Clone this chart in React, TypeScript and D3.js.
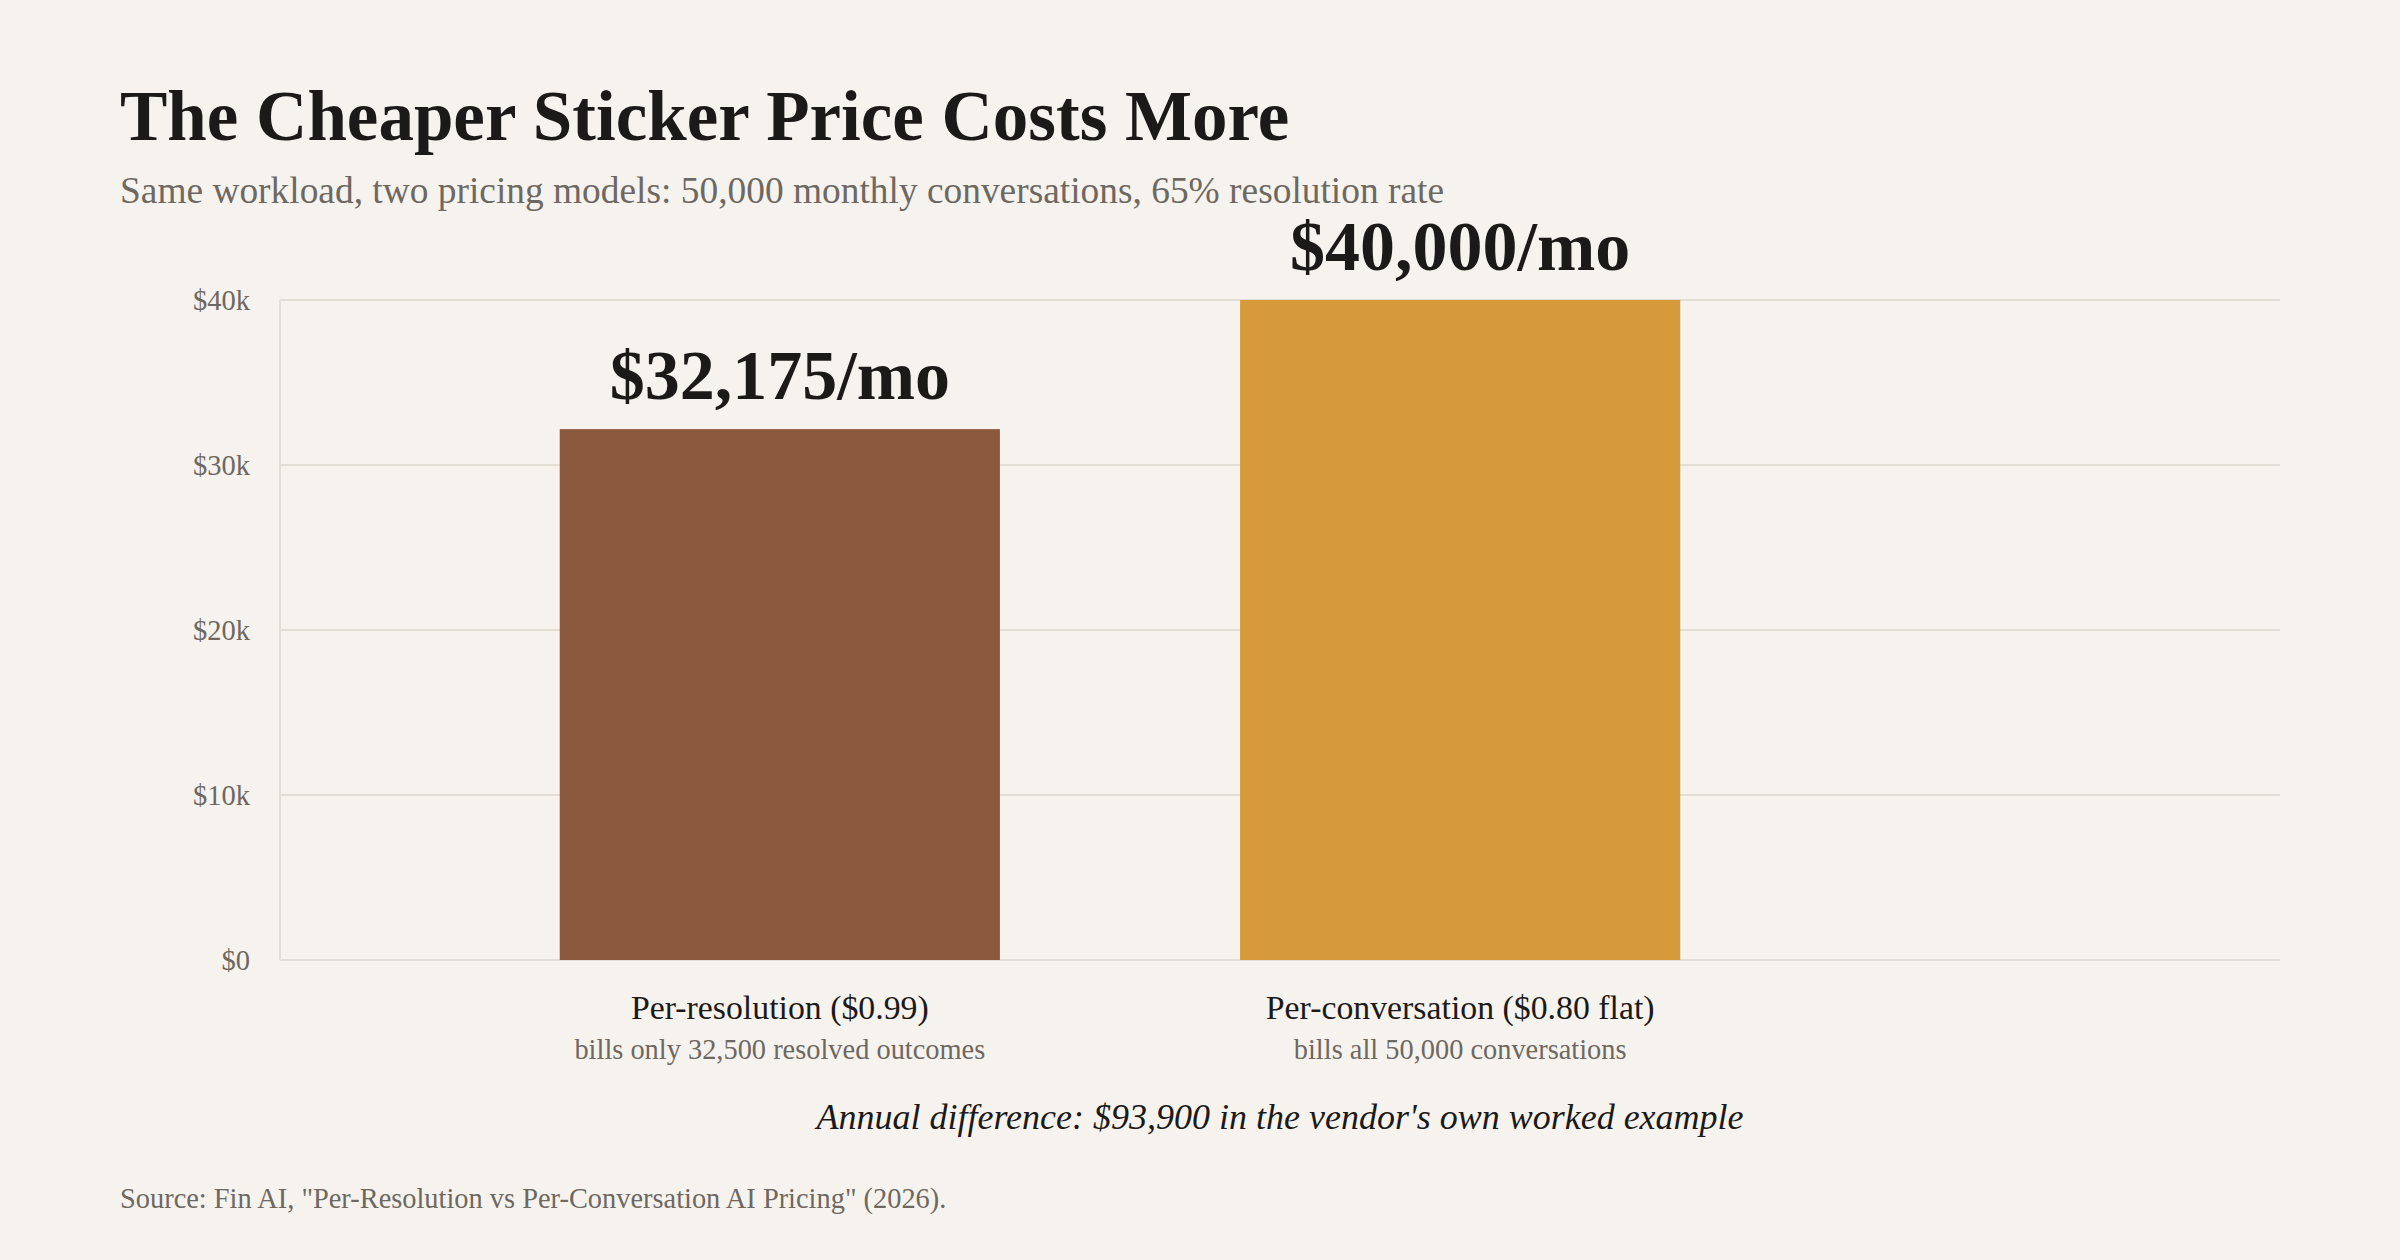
import React from "react";
import * as d3 from "d3";

const categories = ["Per-resolution ($0.99)", "Per-conversation ($0.80 flat)"];
const subLabels = ["bills only 32,500 resolved outcomes", "bills all 50,000 conversations"];
const monthlyCost = [32175, 40000];
const barColors = ["#8b5a3e", "#d69a3a"];
const yTicks = [0, 10000, 20000, 30000, 40000];
const yTickLabels = ["$0", "$10k", "$20k", "$30k", "$40k"];

const title = "The Cheaper Sticker Price Costs More";
const subtitle = "Same workload, two pricing models: 50,000 monthly conversations, 65% resolution rate";
const annotation = "Annual difference: $93,900 in the vendor's own worked example";
const source = "Source: Fin AI, \"Per-Resolution vs Per-Conversation AI Pricing\" (2026).";

const W = 2400;
const H = 1260;
const FONT = "'Liberation Serif', 'DejaVu Serif', Georgia, serif";
const BG = "#f6f3ee";
const INK = "#1b1a19";
const GRAY = "#6e6862";
const GRID = "#e2ddd5";

export default function App() {
  const plot = { left: 280, right: 2280, top: 300, bottom: 960 };
  const y = d3.scaleLinear().domain([0, 40000]).range([plot.bottom, plot.top]);
  const x = d3
    .scaleBand<string>()
    .domain(categories)
    .range([440, 1800])
    .paddingInner(0.353)
    .paddingOuter(0.176);
  const fmt = d3.format(",");
  const bw = x.bandwidth();

  return (
    <svg
      width={W}
      height={H}
      viewBox={`0 0 ${W} ${H}`}
      style={{ position: "absolute", left: 0, top: 0, display: "block" }}
      fontFamily={FONT}
    >
      <rect x={0} y={0} width={W} height={H} fill={BG} />
      <text x={120} y={140} fontSize={71} fontWeight={700} fill={INK}>
        {title}
      </text>
      <text x={120} y={203} fontSize={37.4} fill={GRAY}>
        {subtitle}
      </text>

      {yTicks.map((t, i) => (
        <g key={t}>
          <line x1={plot.left} x2={plot.right} y1={y(t)} y2={y(t)} stroke={GRID} strokeWidth={2} />
          <text x={250} y={y(t)} dy="0.35em" textAnchor="end" fontSize={28.5} fill={GRAY}>
            {yTickLabels[i]}
          </text>
        </g>
      ))}
      <line x1={plot.left} x2={plot.left} y1={plot.top} y2={plot.bottom} stroke={GRID} strokeWidth={2} />

      {categories.map((c, i) => {
        const cx = (x(c) as number) + bw / 2;
        return (
          <g key={c}>
            <rect
              x={x(c)}
              y={y(monthlyCost[i])}
              width={bw}
              height={plot.bottom - y(monthlyCost[i])}
              fill={barColors[i]}
            />
            <text
              x={cx}
              y={y(monthlyCost[i]) - 30}
              textAnchor="middle"
              fontSize={70}
              fontWeight={700}
              fill={INK}
            >
              {`$${fmt(monthlyCost[i])}/mo`}
            </text>
            <text x={cx} y={1019} textAnchor="middle" fontSize={33.8} fill={INK}>
              {c}
            </text>
            <text x={cx} y={1059} textAnchor="middle" fontSize={28.4} fill={GRAY}>
              {subLabels[i]}
            </text>
          </g>
        );
      })}

      <text
        x={(plot.left + plot.right) / 2}
        y={1129}
        textAnchor="middle"
        fontSize={36}
        fontStyle="italic"
        fill={INK}
      >
        {annotation}
      </text>
      <text x={120} y={1208} fontSize={28.4} fill={GRAY}>
        {source}
      </text>
    </svg>
  );
}
